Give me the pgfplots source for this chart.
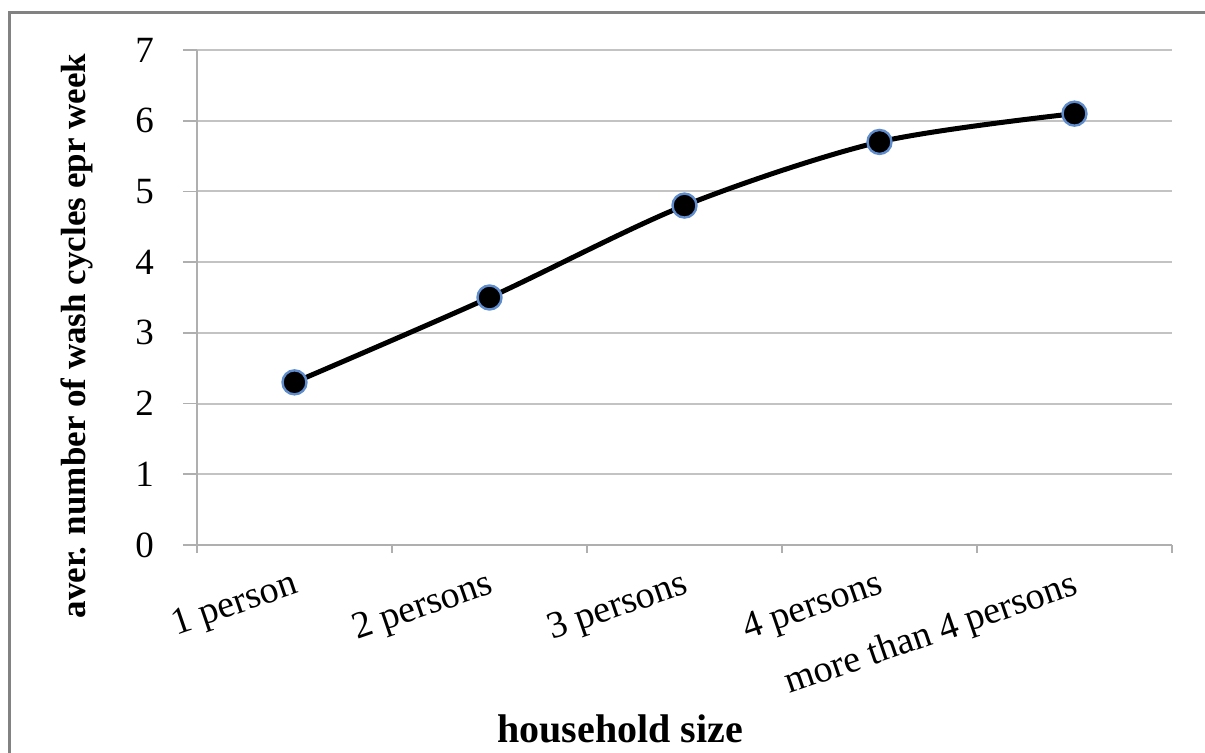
\documentclass[border=0pt]{standalone}
\usepackage{pgfplots}
\pgfplotsset{compat=1.18}
\usepackage{fontspec}
\setmainfont{Liberation Serif}
\definecolor{gridc}{RGB}{195,195,195}
\definecolor{axc}{RGB}{175,175,175}
\definecolor{framec}{RGB}{130,130,130}
\definecolor{markc}{RGB}{95,140,205}
\begin{document}
\begin{tikzpicture}
\begin{axis}[
  at={(0,0)}, anchor=south west,
  scale only axis, width=487.5pt, height=247.5pt,
  xmin=0, xmax=5, ymin=0, ymax=7,
  xtick={0,1,2,3,4,5},
  xticklabels={1 person,2 persons,3 persons,4 persons,more than 4 persons},
  x tick label as interval,
  ytick={0,1,2,3,4,5,6,7},
  tick align=outside,
  major tick length=7pt,
  xtick style={/pgfplots/major tick length=4pt},
  axis x line*=bottom, axis y line*=left,
  axis line style={axc, line width=1pt},
  tick style={axc, line width=0.8pt},
  ymajorgrids, major grid style={gridc, line width=1pt},
  /pgf/number format/assume math mode=true,
  xticklabel style={font=\fontsize{19}{21}\selectfont, rotate=19, anchor=north east, inner sep=0pt, yshift=-4pt, xshift=-3pt},
  yticklabel style={font=\fontsize{18.5}{20}\selectfont, xshift=-11pt},
  xlabel={household size},
  xlabel style={font=\bfseries\fontsize{20}{22}\selectfont, at={(axis description cs:0.434,0)}, anchor=center, yshift=-92pt},
  ylabel={aver. number of wash cycles epr week},
  ylabel style={font=\bfseries\fontsize{17.5}{19}\selectfont, at={(axis description cs:0,0.422)}, anchor=center, yshift=60pt},
]
\addplot[black, line width=2.5pt, smooth, mark=*, mark size=6pt,
  mark options={fill=black, draw=markc, line width=1.2pt}]
  coordinates {(0.5,2.3) (1.5,3.5) (2.5,4.8) (3.5,5.7) (4.5,6.1)};
\end{axis}
\pgfresetboundingbox
\path[use as bounding box] (-98.5pt,-104pt) rectangle (504pt,272.5pt);
\draw[framec, line width=1.5pt] (-93.5pt,-110pt) -- (-93.5pt,266pt) -- (510pt,266pt);
\end{tikzpicture}
\end{document}
